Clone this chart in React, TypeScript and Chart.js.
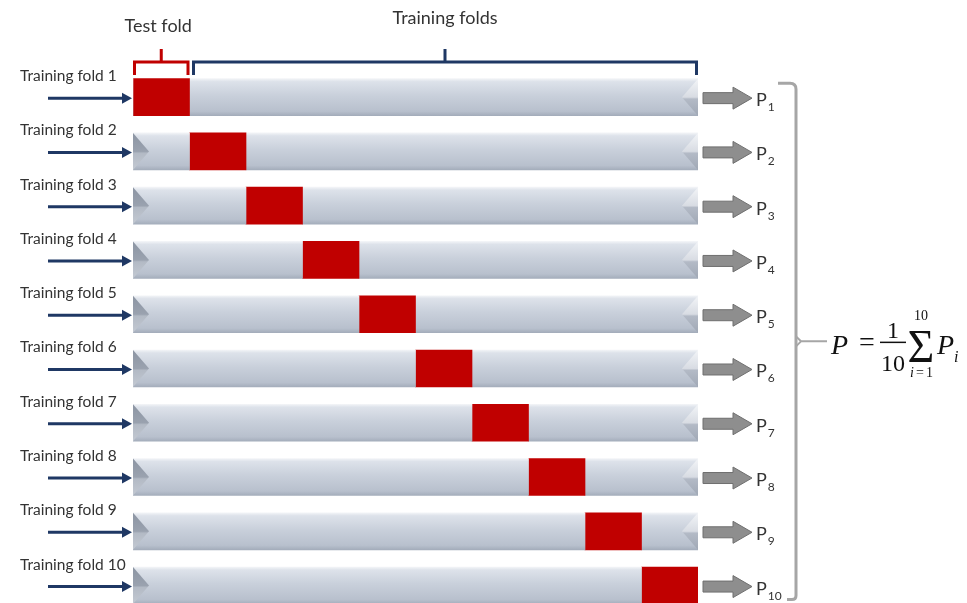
import React, { useEffect, useRef } from "react";
import { Chart, registerables } from "chart.js";

Chart.register(...registerables);

const foldLabels = [
  "Training fold 1",
  "Training fold 2",
  "Training fold 3",
  "Training fold 4",
  "Training fold 5",
  "Training fold 6",
  "Training fold 7",
  "Training fold 8",
  "Training fold 9",
  "Training fold 10",
];
const trainingBefore = [0, 1, 2, 3, 4, 5, 6, 7, 8, 9];
const testFold = [1, 1, 1, 1, 1, 1, 1, 1, 1, 1];
const trainingAfter = [9, 8, 7, 6, 5, 4, 3, 2, 1, 0];
const predictionSubscripts = ["1", "2", "3", "4", "5", "6", "7", "8", "9", "10"];
const testFoldTitle = "Test fold";
const trainingFoldsTitle = "Training folds";
const totalFolds = 10;

const RED = "#c00000";
const NAVY = "#1f3864";
const TEXT = "#333333";
const SANS = "Lato";
const SERIF = "'Liberation Serif'";

function grayFill(c: any) {
  const chart = c.chart;
  const ys = chart.scales && chart.scales.y;
  if (!chart.chartArea || !ys || c.dataIndex == null) return "#c6cdd8";
  const yc = ys.getPixelForValue(c.dataIndex);
  if (!isFinite(yc)) return "#c6cdd8";
  const g = chart.ctx.createLinearGradient(0, yc - 18.5, 0, yc + 18.5);
  g.addColorStop(0, "#f2f4f7");
  g.addColorStop(0.08, "#dde2ea");
  g.addColorStop(0.45, "#c9d0db");
  g.addColorStop(0.88, "#b8c0cd");
  g.addColorStop(1, "#a4adbb");
  return g;
}

const decorPlugin = {
  id: "cvDecor",
  afterDatasetsDraw(chart: any) {
    const ctx = chart.ctx;
    const drawBevel = (xEdge: number, yc: number, h: number, dir: number, light: boolean) => {
      const top = yc - h / 2;
      const bot = yc + h / 2;
      if (!isFinite(top) || !isFinite(bot)) return;
      const g = ctx.createLinearGradient(0, top, 0, bot);
      if (light) {
        g.addColorStop(0, "#f3f5f8");
        g.addColorStop(0.5, "#d8dce3");
        g.addColorStop(0.55, "#b3bac6");
        g.addColorStop(1, "#a0a8b5");
      } else {
        g.addColorStop(0, "#8c95a3");
        g.addColorStop(0.5, "#9aa2af");
        g.addColorStop(0.55, "#b3bac5");
        g.addColorStop(1, "#c3c9d2");
      }
      ctx.save();
      ctx.fillStyle = g;
      ctx.beginPath();
      ctx.moveTo(xEdge, top);
      ctx.lineTo(xEdge + dir * 16, yc);
      ctx.lineTo(xEdge, bot);
      ctx.closePath();
      ctx.fill();
      ctx.restore();
    };
    const m0 = chart.getDatasetMeta(0);
    const m2 = chart.getDatasetMeta(2);
    m0.data.forEach((el: any) => {
      const p = el.getProps(["x", "y", "base", "height"], true);
      if (p.x - p.base > 1) drawBevel(p.base, p.y, p.height, 1, false);
    });
    m2.data.forEach((el: any) => {
      const p = el.getProps(["x", "y", "base", "height"], true);
      if (p.x - p.base > 1) drawBevel(p.x, p.y, p.height, -1, true);
    });
  },
  afterDraw(chart: any) {
    const ctx = chart.ctx;
    const xs = chart.scales.x;
    const ys = chart.scales.y;
    const left = xs.getPixelForValue(0);
    const right = xs.getPixelForValue(totalFolds);

    ctx.save();
    // left navy arrows
    ctx.strokeStyle = NAVY;
    ctx.fillStyle = NAVY;
    foldLabels.forEach((_, i) => {
      const yc = ys.getPixelForValue(i) + 1;
      ctx.lineWidth = 3;
      ctx.beginPath();
      ctx.moveTo(48, yc);
      ctx.lineTo(left - 9, yc);
      ctx.stroke();
      ctx.beginPath();
      ctx.moveTo(left - 1, yc);
      ctx.lineTo(left - 11, yc - 5.5);
      ctx.lineTo(left - 11, yc + 5.5);
      ctx.closePath();
      ctx.fill();
    });

    // right gray arrows + P labels
    foldLabels.forEach((_, i) => {
      const yc = ys.getPixelForValue(i) + 1;
      const x0 = right + 5;
      ctx.beginPath();
      ctx.moveTo(x0, yc - 5.5);
      ctx.lineTo(x0 + 30, yc - 5.5);
      ctx.lineTo(x0 + 30, yc - 11);
      ctx.lineTo(x0 + 49, yc);
      ctx.lineTo(x0 + 30, yc + 11);
      ctx.lineTo(x0 + 30, yc + 5.5);
      ctx.lineTo(x0, yc + 5.5);
      ctx.closePath();
      ctx.fillStyle = "#8e8e8e";
      ctx.fill();
      ctx.lineWidth = 1;
      ctx.strokeStyle = "#6f6f6f";
      ctx.stroke();

      ctx.fillStyle = TEXT;
      ctx.textAlign = "left";
      ctx.textBaseline = "alphabetic";
      ctx.font = `18px ${SANS}`;
      ctx.fillText("P", x0 + 53, yc + 8);
      const pw = ctx.measureText("P").width;
      ctx.font = `12px ${SANS}`;
      ctx.fillText(predictionSubscripts[i], x0 + 54 + pw, yc + 13);
    });

    // top brackets
    const tStart = xs.getPixelForValue(trainingBefore[0]);
    const tEnd = xs.getPixelForValue(trainingBefore[0] + testFold[0]);
    const yLine = 62;
    const yEnd = 75;
    ctx.lineWidth = 3;
    ctx.lineCap = "butt";
    ctx.strokeStyle = RED;
    ctx.beginPath();
    ctx.moveTo(tStart + 1.5, yEnd);
    ctx.lineTo(tStart + 1.5, yLine);
    ctx.lineTo(tEnd - 1.5, yLine);
    ctx.lineTo(tEnd - 1.5, yEnd);
    ctx.moveTo((tStart + tEnd) / 2, yLine);
    ctx.lineTo((tStart + tEnd) / 2, 49);
    ctx.stroke();

    ctx.strokeStyle = NAVY;
    const nStart = tEnd + 4;
    const nEnd = right - 1.5;
    ctx.beginPath();
    ctx.moveTo(nStart, yEnd);
    ctx.lineTo(nStart, yLine);
    ctx.lineTo(nEnd, yLine);
    ctx.lineTo(nEnd, yEnd);
    ctx.moveTo((nStart + nEnd) / 2, yLine);
    ctx.lineTo((nStart + nEnd) / 2, 49);
    ctx.stroke();

    ctx.fillStyle = TEXT;
    ctx.font = `18px ${SANS}`;
    ctx.textAlign = "center";
    ctx.textBaseline = "middle";
    ctx.fillText(testFoldTitle, (tStart + tEnd) / 2 - 3, 26);
    ctx.fillText(trainingFoldsTitle, (nStart + nEnd) / 2, 18);

    // right brace
    const yTop = ys.getPixelForValue(0) - 14;
    const yBot = ys.getPixelForValue(totalFolds - 1) + 14;
    const yMid = (ys.getPixelForValue(0) + ys.getPixelForValue(totalFolds - 1)) / 2;
    const bx = 796;
    ctx.strokeStyle = "#a6a6a6";
    ctx.lineWidth = 3;
    ctx.beginPath();
    ctx.moveTo(778, yTop);
    ctx.lineTo(bx - 6, yTop);
    ctx.quadraticCurveTo(bx, yTop, bx, yTop + 6);
    ctx.lineTo(bx, yBot - 4);
    ctx.quadraticCurveTo(bx, yBot, bx - 4, yBot);
    ctx.lineTo(787, yBot);
    ctx.stroke();
    ctx.lineWidth = 2;
    ctx.beginPath();
    ctx.moveTo(bx, yMid - 5);
    ctx.lineTo(bx + 5, yMid);
    ctx.lineTo(bx, yMid + 5);
    ctx.moveTo(bx + 4, yMid);
    ctx.lineTo(827, yMid);
    ctx.stroke();

    // formula  P = 1/10 Σ P_i
    ctx.fillStyle = "#111111";
    ctx.textAlign = "left";
    ctx.textBaseline = "alphabetic";
    ctx.font = `italic 28px ${SERIF}`;
    ctx.fillText("P", 831, yMid + 13);
    ctx.font = `28px ${SERIF}`;
    ctx.fillText("=", 859, yMid + 10);
    ctx.lineWidth = 1.5;
    ctx.strokeStyle = "#111111";
    ctx.beginPath();
    ctx.moveTo(880, yMid + 1);
    ctx.lineTo(906, yMid + 1);
    ctx.stroke();
    ctx.textAlign = "center";
    ctx.font = `24px ${SERIF}`;
    ctx.fillText("1", 893, yMid - 3);
    ctx.fillText(String(totalFolds), 893, yMid + 30);
    ctx.font = `46px ${SERIF}`;
    ctx.fillText("\u03A3", 921, yMid + 21);
    ctx.font = `14px ${SERIF}`;
    ctx.fillText(String(totalFolds), 921, yMid - 21);
    ctx.textAlign = "left";
    ctx.font = `italic 14px ${SERIF}`;
    ctx.fillText("i", 910, yMid + 36);
    ctx.font = `14px ${SERIF}`;
    ctx.fillText("=", 916, yMid + 36);
    ctx.fillText("1", 926, yMid + 36);
    ctx.font = `italic 28px ${SERIF}`;
    ctx.fillText("P", 937, yMid + 13);
    ctx.font = `italic 16px ${SERIF}`;
    ctx.fillText("i", 954, yMid + 21);
    ctx.restore();
  },
};

export default function App() {
  const ref = useRef<HTMLCanvasElement>(null);
  useEffect(() => {
    const canvas = ref.current;
    if (!canvas) return;
    const chart = new Chart(canvas, {
      type: "bar",
      data: {
        labels: foldLabels,
        datasets: [
          { label: "Training folds (before)", data: trainingBefore, backgroundColor: grayFill as any, stack: "s" },
          { label: "Test fold", data: testFold, backgroundColor: RED, stack: "s" },
          { label: "Training folds (after)", data: trainingAfter, backgroundColor: grayFill as any, stack: "s" },
        ],
      },
      options: {
        indexAxis: "y",
        responsive: false,
        animation: false,
        devicePixelRatio: 1,
        layout: { padding: { left: 20, right: 269, top: 70, bottom: 1 } },
        plugins: { legend: { display: false }, tooltip: { enabled: false } },
        datasets: { bar: { barThickness: 37, borderWidth: 0 } },
        scales: {
          x: { type: "linear", min: 0, max: totalFolds, stacked: true, display: false },
          y: {
            stacked: true,
            grid: { display: false, drawTicks: false },
            border: { display: false },
            ticks: {
              labelOffset: -21,
              crossAlign: "far",
              padding: 0,
              color: TEXT,
              font: { family: SANS, size: 15.5 },
            },
            afterFit: (s: any) => {
              s.width = 113;
            },
          },
        },
      },
      plugins: [decorPlugin],
    } as any);
    return () => chart.destroy();
  }, []);
  return (
    <div
      style={{
        position: "fixed",
        left: 0,
        top: 0,
        width: 967,
        height: 603,
        overflow: "hidden",
        background: "#ffffff",
      }}
    >
      <canvas ref={ref} width={967} height={622} style={{ display: "block", width: 967, height: 622 }} />
    </div>
  );
}
